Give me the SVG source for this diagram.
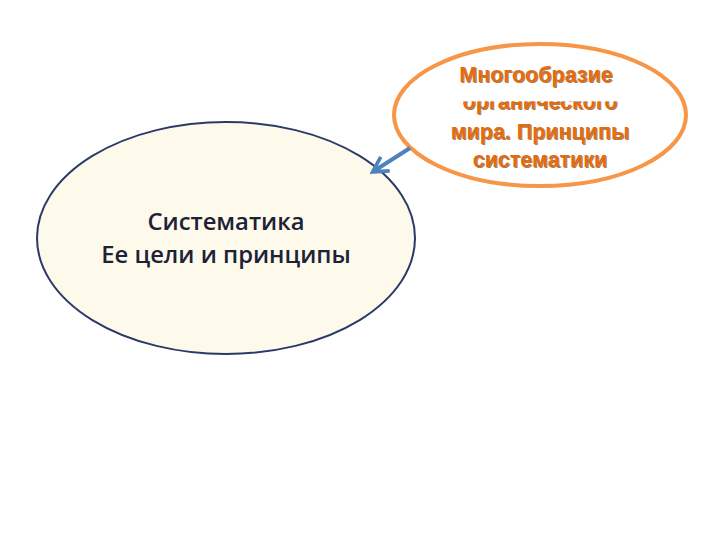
<svg xmlns="http://www.w3.org/2000/svg" width="720" height="540" viewBox="0 0 720 540">
<defs>
<style>
.otxt{font-family:"Liberation Sans",Arial,sans-serif;font-weight:bold;font-size:21.5px;text-anchor:middle;fill:#E46C0A}
.osh{font-family:"Liberation Sans",Arial,sans-serif;font-weight:bold;font-size:21.5px;text-anchor:middle;fill:#7A3A10;opacity:0.65}
.ltxt{font-family:"Open Sans","Noto Sans",sans-serif;font-weight:600;font-size:23.8px;text-anchor:middle;fill:#1C2238}
</style>
<marker id="ah" viewBox="0 0 12 12" refX="9" refY="6" markerWidth="5" markerHeight="5" orient="auto" markerUnits="strokeWidth">
<path d="M1,1 L10,6 L1,11" fill="none" stroke="#4F81BD" stroke-width="2.2" stroke-linejoin="miter"/>
</marker>
<clipPath id="clip2"><rect x="380" y="101.5" width="320" height="30"/></clipPath>
</defs>
<rect width="720" height="540" fill="#FFFFFF"/>
<g id="node-systematics">
<ellipse cx="226" cy="238" rx="189" ry="116" fill="#FEFAEB" stroke="#2B3A67" stroke-width="2"/>
<text class="ltxt" x="226" y="230">Систематика</text>
<text class="ltxt" x="226" y="263">Ее цели и принципы</text>
</g>
<g id="node-diversity">
<ellipse cx="540" cy="115" rx="146" ry="71" fill="#FFFFFF" stroke="#F79646" stroke-width="4"/>
<g>
<text class="osh" x="537" y="83">Многообразие</text>
<text class="otxt" x="536" y="82">Многообразие</text>
<g clip-path="url(#clip2)">
<text class="osh" x="541" y="110">органического</text>
<text class="otxt" x="540" y="109">органического</text>
</g>
<text class="osh" x="541" y="140">мира. Принципы</text>
<text class="otxt" x="540" y="139">мира. Принципы</text>
<text class="osh" x="541" y="168">систематики</text>
<text class="otxt" x="540" y="167">систематики</text>
</g>
</g>
<g id="connectors">
<line x1="410" y1="148" x2="374" y2="171" stroke="#4F81BD" stroke-width="4" marker-end="url(#ah)"/>
</g>
</svg>
